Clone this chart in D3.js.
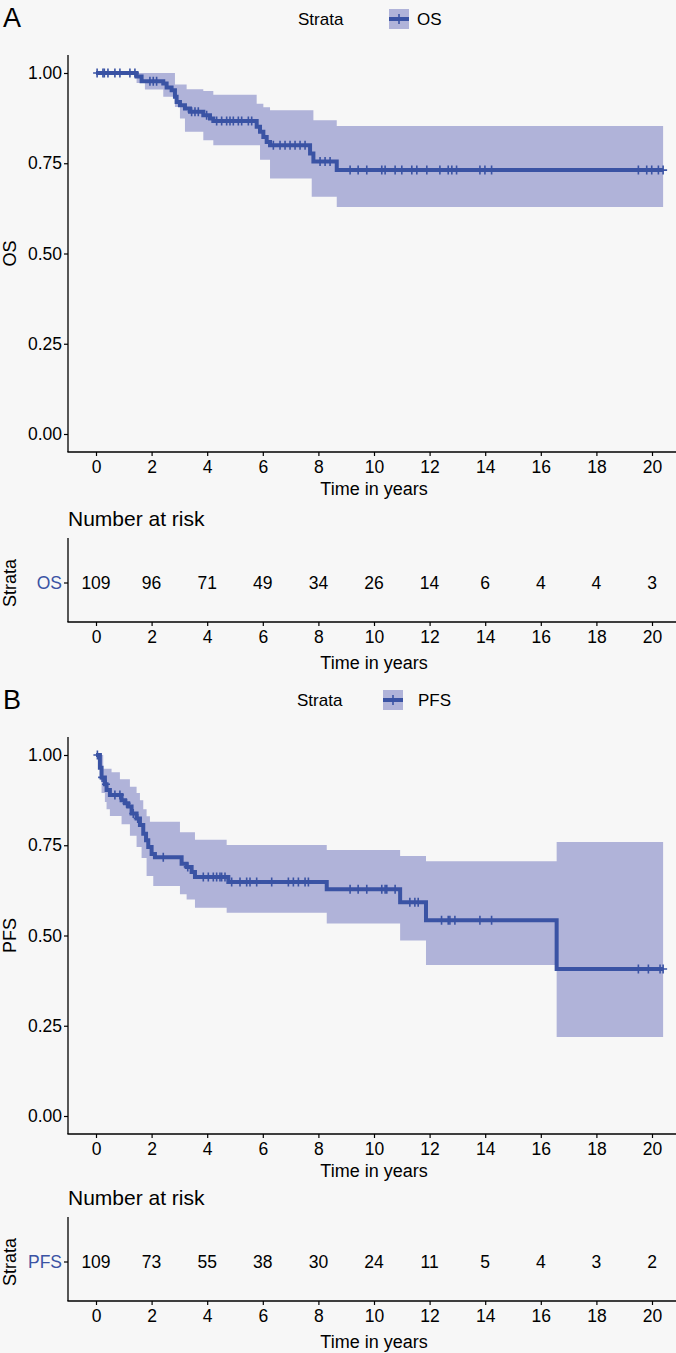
<!DOCTYPE html>
<html><head><meta charset="utf-8">
<script src="https://cdn.jsdelivr.net/npm/d3@7"></script>
<style>
body{margin:0;background:#f7f7f7}
svg{display:block;background:#f7f7f7}
text{font-family:"Liberation Sans",Arial,Helvetica,sans-serif;fill:#000}
</style>
</head><body>
<svg id="chart" width="676" height="1353"></svg>
<script>
// ---------- data ----------
const timeTicks = [0, 2, 4, 6, 8, 10, 12, 14, 16, 18, 20];
const survTicks = [0, 0.25, 0.5, 0.75, 1];
const endTime = 20.4;

// OS (panel A)
const osStepTimes = [0, 1.46, 1.64, 2.42, 2.54, 2.72, 2.84, 2.90, 3.02, 3.20, 3.38, 3.86, 4.10, 4.22, 5.78, 5.90, 6.02, 6.14, 6.26, 7.70, 7.82, 8.66];
const osStepSurv  = [1.00, 0.990, 0.977, 0.971, 0.960, 0.952, 0.934, 0.920, 0.911, 0.902, 0.893, 0.883, 0.874, 0.867, 0.851, 0.837, 0.823, 0.809, 0.800, 0.777, 0.755, 0.731];
const osUpperTimes = [0, 2.84, 3.26, 3.86, 4.22, 5.78, 6.02, 6.26, 7.82, 8.66];
const osUpperVals  = [1.00, 0.968, 0.955, 0.950, 0.940, 0.915, 0.905, 0.897, 0.869, 0.853];
const osLowerTimes = [0, 1.46, 1.76, 2.42, 2.84, 3.02, 3.20, 3.86, 4.22, 5.90, 6.26, 7.76, 8.66];
const osLowerVals  = [1.00, 0.972, 0.954, 0.934, 0.906, 0.874, 0.837, 0.814, 0.800, 0.760, 0.708, 0.657, 0.629];
const osCensor = [0.04, 0.25, 0.30, 0.43, 0.68, 0.86, 1.22, 1.40, 1.94, 2.06, 2.18, 3.44, 3.56, 3.68, 3.98,
  4.34, 4.52, 4.70, 4.82, 4.94, 5.12, 5.24, 5.48, 5.60, 6.38, 6.62, 6.80, 6.98, 7.16, 7.34, 7.52,
  8.06, 8.24, 8.42, 9.14, 9.43, 9.74, 10.28, 10.40, 10.76, 11.0, 11.36, 11.54, 11.9, 12.37, 12.67, 12.8, 12.97,
  13.81, 13.99, 14.23, 19.51, 19.81, 19.99, 20.23, 20.4];
const osRisk = [109, 96, 71, 49, 34, 26, 14, 6, 4, 4, 3];

// PFS (panel B)
const pfsStepTimes = [0, 0.14, 0.20, 0.32, 0.38, 0.50, 0.92, 1.04, 1.16, 1.28, 1.46, 1.58, 1.70, 1.80, 1.88, 2.00, 2.12, 3.08, 3.26, 3.44, 3.56, 4.76, 8.30, 10.94, 11.87, 16.57];
const pfsStepSurv  = [1.00, 0.965, 0.938, 0.919, 0.903, 0.889, 0.875, 0.866, 0.857, 0.838, 0.824, 0.806, 0.782, 0.764, 0.745, 0.726, 0.717, 0.699, 0.690, 0.676, 0.662, 0.648, 0.628, 0.592, 0.542, 0.407];
const pfsUpperTimes = [0, 0.26, 0.56, 0.86, 1.22, 1.46, 1.58, 1.70, 1.82, 1.94, 3.02, 3.56, 4.70, 8.30, 10.94, 11.87, 16.57];
const pfsUpperVals  = [1.00, 0.962, 0.952, 0.933, 0.912, 0.895, 0.875, 0.850, 0.830, 0.815, 0.786, 0.765, 0.751, 0.737, 0.720, 0.706, 0.759];
const pfsLowerTimes = [0, 0.14, 0.20, 0.32, 0.38, 0.50, 0.92, 1.22, 1.46, 1.64, 1.82, 2.06, 3.02, 3.26, 3.56, 4.70, 8.30, 10.94, 11.87, 16.57];
const pfsLowerVals  = [1.00, 0.930, 0.895, 0.870, 0.850, 0.831, 0.808, 0.776, 0.745, 0.715, 0.665, 0.637, 0.614, 0.600, 0.577, 0.563, 0.533, 0.486, 0.418, 0.219];
const pfsCensor = [0.05, 0.22, 0.36, 0.68, 0.86, 1.10, 1.34, 1.50, 2.42, 3.30, 3.86, 4.04, 4.22, 4.34, 4.46, 4.52, 4.64,
  4.88, 5.18, 5.42, 5.54, 5.78, 6.32, 6.92, 7.10, 7.28, 7.52, 7.64, 9.14, 9.43, 9.74, 10.28, 10.40, 10.46, 10.76,
  11.29, 11.47, 11.59, 12.43, 12.67, 12.73, 12.91, 13.81, 14.23, 19.51, 19.87, 20.29, 20.4];
const pfsRisk = [109, 73, 55, 38, 30, 24, 11, 5, 4, 3, 2];

// ---------- styles ----------
const lineColor = "#3a53a4";
const bandColor = "#b0b3d9";
const FS = 17.5;      // tick labels / risk numbers
const TS = 18;        // axis titles
const LS = 17;        // legend

const svg = d3.select("#chart");

function stepVal(times, vals, t) {
  let v = vals[0];
  for (let i = 0; i < times.length; i++) { if (times[i] <= t) v = vals[i]; }
  return v;
}

function drawPanel(o) {
  const g = svg.append("g");
  const x = d3.scaleLinear().domain([0, 20]).range([96, 652]);
  const y = d3.scaleLinear().domain([0, 1]).range([o.top + 361, o.top]);
  const axisTop = o.top - 18, axisBottom = o.top + 379;

  // panel letter
  g.append("text").attr("x", 3).attr("y", o.top - 46).attr("font-size", 27).text(o.letter);

  // legend
  const ly = o.legendY;
  g.append("text").attr("x", o.legStrataX).attr("y", ly).attr("dy", "0.35em").attr("font-size", LS).text("Strata");
  g.append("rect").attr("x", o.legKeyX).attr("y", ly - 10).attr("width", 20).attr("height", 20).attr("fill", bandColor);
  g.append("line").attr("x1", o.legKeyX).attr("x2", o.legKeyX + 20).attr("y1", ly).attr("y2", ly)
    .attr("stroke", lineColor).attr("stroke-width", 4);
  g.append("line").attr("x1", o.legKeyX + 10).attr("x2", o.legKeyX + 10).attr("y1", ly - 5).attr("y2", ly + 5)
    .attr("stroke", lineColor).attr("stroke-width", 1.6);
  g.append("text").attr("x", o.legTextX).attr("y", ly).attr("dy", "0.35em").attr("font-size", LS).text(o.name);

  // confidence band
  const bandTimes = Array.from(new Set([...o.upT, ...o.loT, endTime])).sort((a, b) => a - b);
  const bandPts = bandTimes.map(t => ({ t, hi: stepVal(o.upT, o.upV, t), lo: stepVal(o.loT, o.loV, t) }));
  g.append("path").datum(bandPts)
    .attr("d", d3.area().curve(d3.curveStepAfter).x(d => x(d.t)).y0(d => y(d.lo)).y1(d => y(d.hi)))
    .attr("fill", bandColor);

  // survival step line
  const pts = o.sT.map((t, i) => ({ t, v: o.sV[i] }));
  pts.push({ t: endTime, v: o.sV[o.sV.length - 1] });
  g.append("path").datum(pts)
    .attr("d", d3.line().curve(d3.curveStepAfter).x(d => x(d.t)).y(d => y(d.v)))
    .attr("fill", "none").attr("stroke", lineColor).attr("stroke-width", 4);

  // censor marks
  g.append("g").selectAll("path").data(o.cens).join("path")
    .attr("d", t => {
      const cx = x(t), cy = y(stepVal(o.sT, o.sV, t));
      return `M${cx - 4},${cy}H${cx + 4}M${cx},${cy - 4.5}V${cy + 4.5}`;
    })
    .attr("stroke", lineColor).attr("stroke-width", 1.6).attr("fill", "none");

  // axes
  const yAxis = g.append("g").attr("transform", "translate(68,0)")
    .call(d3.axisLeft(y).tickValues(survTicks).tickFormat(d3.format(".2f")).tickSize(4).tickSizeOuter(0));
  yAxis.select(".domain").remove();
  g.append("line").attr("x1", 68).attr("x2", 68).attr("y1", axisTop).attr("y2", axisBottom).attr("stroke", "#000").attr("stroke-width", 1.3);
  const xAxis = g.append("g").attr("transform", `translate(0,${axisBottom})`)
    .call(d3.axisBottom(x).tickValues(timeTicks).tickSize(4).tickSizeOuter(0));
  xAxis.select(".domain").remove();
  g.append("line").attr("x1", 67.4).attr("x2", 676).attr("y1", axisBottom).attr("y2", axisBottom).attr("stroke", "#000").attr("stroke-width", 1.3);
  [yAxis, xAxis].forEach(a => {
    a.selectAll("text").attr("font-size", FS).attr("fill", "#000").attr("font-family", null);
    a.selectAll(".tick line").attr("stroke", "#000").attr("stroke-width", 1.2);
  });
  yAxis.selectAll("text").attr("x", -6);
  xAxis.selectAll("text").attr("y", 8).attr("dy", "0.75em");
  g.append("text").attr("x", 374).attr("y", axisBottom + 43).attr("text-anchor", "middle").attr("font-size", TS).text("Time in years");
  g.append("text").attr("transform", `translate(16,${(axisTop + axisBottom) / 2}) rotate(-90)`)
    .attr("text-anchor", "middle").attr("font-size", TS).text(o.name);

  // risk table
  const rt = o.riskTop;
  g.append("text").attr("x", 68).attr("y", rt - 19).attr("dy", "0.35em").attr("font-size", 21).text("Number at risk");
  const rowY = rt + 45, rAxisB = rt + 84;
  g.append("line").attr("x1", 68).attr("x2", 68).attr("y1", rt).attr("y2", rAxisB).attr("stroke", "#000").attr("stroke-width", 1.3);
  g.append("line").attr("x1", 67.4).attr("x2", 676).attr("y1", rAxisB).attr("y2", rAxisB).attr("stroke", "#000").attr("stroke-width", 1.3);
  g.append("line").attr("x1", 64).attr("x2", 68).attr("y1", rowY).attr("y2", rowY).attr("stroke", "#000").attr("stroke-width", 1.2);
  g.append("text").attr("x", 62).attr("y", rowY).attr("dy", "0.35em").attr("text-anchor", "end")
    .attr("font-size", FS).style("fill", lineColor).text(o.name);
  g.append("g").selectAll("text").data(o.risk).join("text")
    .attr("x", (d, i) => x(timeTicks[i])).attr("y", rowY).attr("dy", "0.35em")
    .attr("text-anchor", "middle").attr("font-size", FS).text(d => d);
  const rAxis = g.append("g").attr("transform", `translate(0,${rAxisB})`)
    .call(d3.axisBottom(x).tickValues(timeTicks).tickSize(4).tickSizeOuter(0));
  rAxis.select(".domain").remove();
  rAxis.selectAll("text").attr("font-size", FS).attr("fill", "#000").attr("font-family", null).attr("y", 8).attr("dy", "0.75em");
  rAxis.selectAll(".tick line").attr("stroke", "#000").attr("stroke-width", 1.2);
  g.append("text").attr("x", 374).attr("y", rAxisB + 47).attr("text-anchor", "middle").attr("font-size", TS).text("Time in years");
  g.append("text").attr("transform", `translate(16,${rowY}) rotate(-90)`)
    .attr("text-anchor", "middle").attr("font-size", TS).text("Strata");
}

drawPanel({ letter: "A", name: "OS", top: 73, legendY: 19, legStrataX: 298, legKeyX: 389, legTextX: 417,
  sT: osStepTimes, sV: osStepSurv, upT: osUpperTimes, upV: osUpperVals, loT: osLowerTimes, loV: osLowerVals,
  cens: osCensor, risk: osRisk, riskTop: 538 });
drawPanel({ letter: "B", name: "PFS", top: 755, legendY: 700, legStrataX: 297, legKeyX: 383, legTextX: 418,
  sT: pfsStepTimes, sV: pfsStepSurv, upT: pfsUpperTimes, upV: pfsUpperVals, loT: pfsLowerTimes, loV: pfsLowerVals,
  cens: pfsCensor, risk: pfsRisk, riskTop: 1217 });
</script>
</body></html>
